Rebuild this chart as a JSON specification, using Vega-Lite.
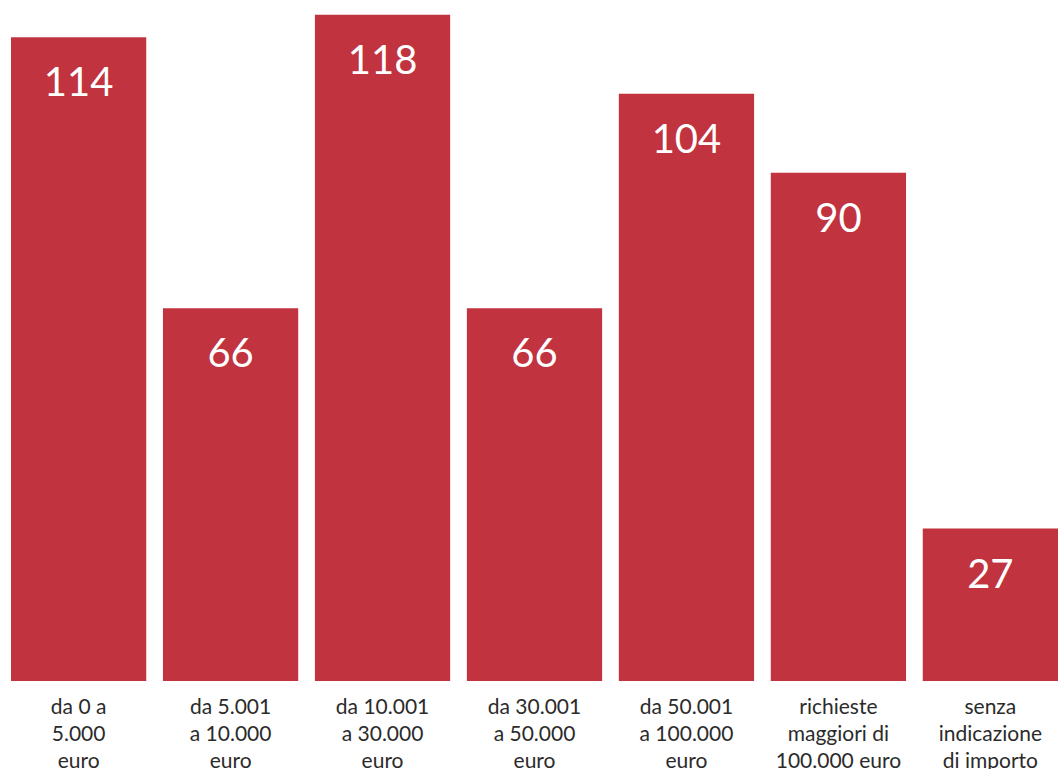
{
  "$schema": "https://vega.github.io/schema/vega-lite/v6.json",
  "width": 1058,
  "height": 681,
  "padding": 0,
  "autosize": {"type": "pad"},
  "background": "white",
  "config": {"view": {"stroke": null}},
  "data": {
    "values": [
      {"fascia": "da 0 a|5.000|euro", "n": 114},
      {"fascia": "da 5.001|a 10.000|euro", "n": 66},
      {"fascia": "da 10.001|a 30.000|euro", "n": 118},
      {"fascia": "da 30.001|a 50.000|euro", "n": 66},
      {"fascia": "da 50.001|a 100.000|euro", "n": 104},
      {"fascia": "richieste|maggiori di|100.000 euro", "n": 90},
      {"fascia": "senza|indicazione|di importo", "n": 27}
    ]
  },
  "encoding": {
    "x": {
      "field": "fascia",
      "type": "nominal",
      "sort": null,
      "scale": {"range": [11, 1058], "paddingInner": 0.11, "paddingOuter": 0},
      "axis": {
        "title": null,
        "domain": false,
        "ticks": false,
        "labelAngle": 0,
        "labelExpr": "split(datum.value, '|')",
        "labelFont": "Lato",
        "labelFontSize": 21,
        "labelColor": "#2b2b2b",
        "labelLineHeight": 27,
        "labelBaseline": "top",
        "labelPadding": 15,
        "labelLimit": 0
      }
    },
    "y": {
      "field": "n",
      "type": "quantitative",
      "scale": {"domain": [0, 120.6], "nice": false},
      "axis": null
    }
  },
  "layer": [
    {"mark": {"type": "bar", "color": "#C0333F"}},
    {
      "mark": {
        "type": "text",
        "color": "white",
        "font": "Lato",
        "fontSize": 40,
        "baseline": "alphabetic",
        "dy": 59
      },
      "encoding": {"text": {"field": "n", "type": "quantitative"}}
    }
  ]
}
